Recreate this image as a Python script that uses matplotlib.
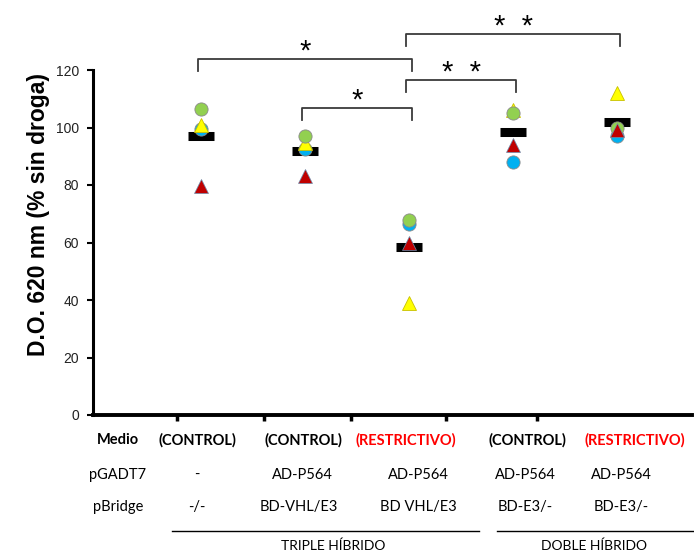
import matplotlib
matplotlib.use('Agg')
import matplotlib.pyplot as plt

# Data (D.O. 620 nm, % of no-drug)
groups = [1, 2, 3, 4, 5]
blue = [99.5, 92.5, 66.5, 88, 97]
yellow = [101, 94.5, 39, 106, 112]
green = [106.5, 97, 68, 105, 100]
red = [79.5, 83, 60, 94, 99]
means = [97, 92, 58.5, 98.5, 102]

# significance brackets: (from group, to group, level, label)
brackets = [(1, 3, 123.8, '*'), (3, 5, 132.5, '*  *'), (3, 4, 116.5, '*  *'), (2, 3, 106.8, '*')]

medio = ['(CONTROL)', '(CONTROL)', '(RESTRICTIVO)', '(CONTROL)', '(RESTRICTIVO)']
medio_colors = ['black', 'black', 'red', 'black', 'red']
pgadt7 = ['-', 'AD-P564', 'AD-P564', 'AD-P564', 'AD-P564']
pbridge = ['-/-', 'BD-VHL/E3', 'BD VHL/E3', 'BD-E3/-', 'BD-E3/-']

fig = plt.figure(figsize=(6.94, 5.54), dpi=100)
ax = fig.add_axes([93 / 694, 139 / 554, 599 / 694, 345 / 554])

# mean bars
ax.hlines(means, [g - 0.125 for g in groups], [g + 0.125 for g in groups],
          colors='black', linewidth=6.5, capstyle='butt', zorder=2)

ms = 9.5
ax.plot(groups, blue, 'o', color='#00B0F0', mec='#8a8a8a', mew=0.6, ms=ms, zorder=3)
ax.plot(groups, yellow, '^', color='#FFFF00', mec='#c8c000', mew=0.6, ms=ms, zorder=4)
ax.plot(groups, green, 'o', color='#92D050', mec='#8a8a8a', mew=0.6, ms=ms, zorder=5)
ax.plot(groups, red, '^', color='#C00000', mec='#6a8fb0', mew=0.5, ms=ms, zorder=6)

# brackets
for a, b, lvl, lab in brackets:
    x0, x1 = a - 0.03, b + 0.03
    ax.plot([x0, x0, x1, x1], [lvl - 4.2, lvl, lvl, lvl - 4.2], color='#3a3a3a',
            lw=1.3, clip_on=False, zorder=1)
    ax.text((x0 + x1) / 2, lvl + 2.5, lab, ha='center', va='center', fontsize=21,
            family='Liberation Sans', clip_on=False)

ax.set_xlim(-0.04, 5.72)
ax.set_ylim(0, 120)
ax.set_yticks(range(0, 121, 20))
ax.set_xticks([0.77, 1.60, 2.44, 3.35, 4.23])
ax.set_xticklabels([])
for s in ['top', 'right']:
    ax.spines[s].set_visible(False)
ax.spines['left'].set_linewidth(2.2)
ax.spines['bottom'].set_linewidth(2.8)
ax.tick_params(axis='y', length=4, width=1.5, labelsize=10, colors='black', pad=6)
ax.tick_params(axis='x', length=4, width=2.5)
for t in ax.get_yticklabels():
    t.set_family('Liberation Sans')
    t.set_color('#222222')

ax.set_ylabel('D.O. 620 nm (% sin droga)', fontsize=16.5, fontweight='bold',
              family='Liberation Sans')
ax.yaxis.set_label_coords(-0.072, 0.58)

# table below the axis
W, H = 694.0, 554.0
tf = 'Lato'
def ftxt(px, py, s, **kw):
    fig.text(px / W, 1 - py / H, s, ha='center', va='center', family=tf, **kw)

ftxt(118, 440, 'Medio', fontsize=10.5, fontweight='bold')
ftxt(118, 475, 'pGADT7', fontsize=10.5)
ftxt(118, 507, 'pBridge', fontsize=10.5)

medio_x = [197, 303, 406, 527, 635]
row_x = [197, 302, 418, 525, 621]
for i in range(5):
    ftxt(medio_x[i], 440, medio[i], fontsize=10.5, fontweight='bold', color=medio_colors[i])
    ftxt(row_x[i], 475, pgadt7[i], fontsize=10.5)
    ftxt(row_x[i] - (3 if i == 1 else 0), 507, pbridge[i], fontsize=10.5)

fig.add_artist(plt.Line2D([172 / W, 479 / W], [1 - 531 / H, 1 - 531 / H], color='black', lw=1))
fig.add_artist(plt.Line2D([497 / W, 694 / W], [1 - 531 / H, 1 - 531 / H], color='black', lw=1))
ftxt(333, 546, 'TRIPLE HÍBRIDO', fontsize=10)
ftxt(594, 546, 'DOBLE HÍBRIDO', fontsize=10)

fig.savefig('out.png', dpi=100)
